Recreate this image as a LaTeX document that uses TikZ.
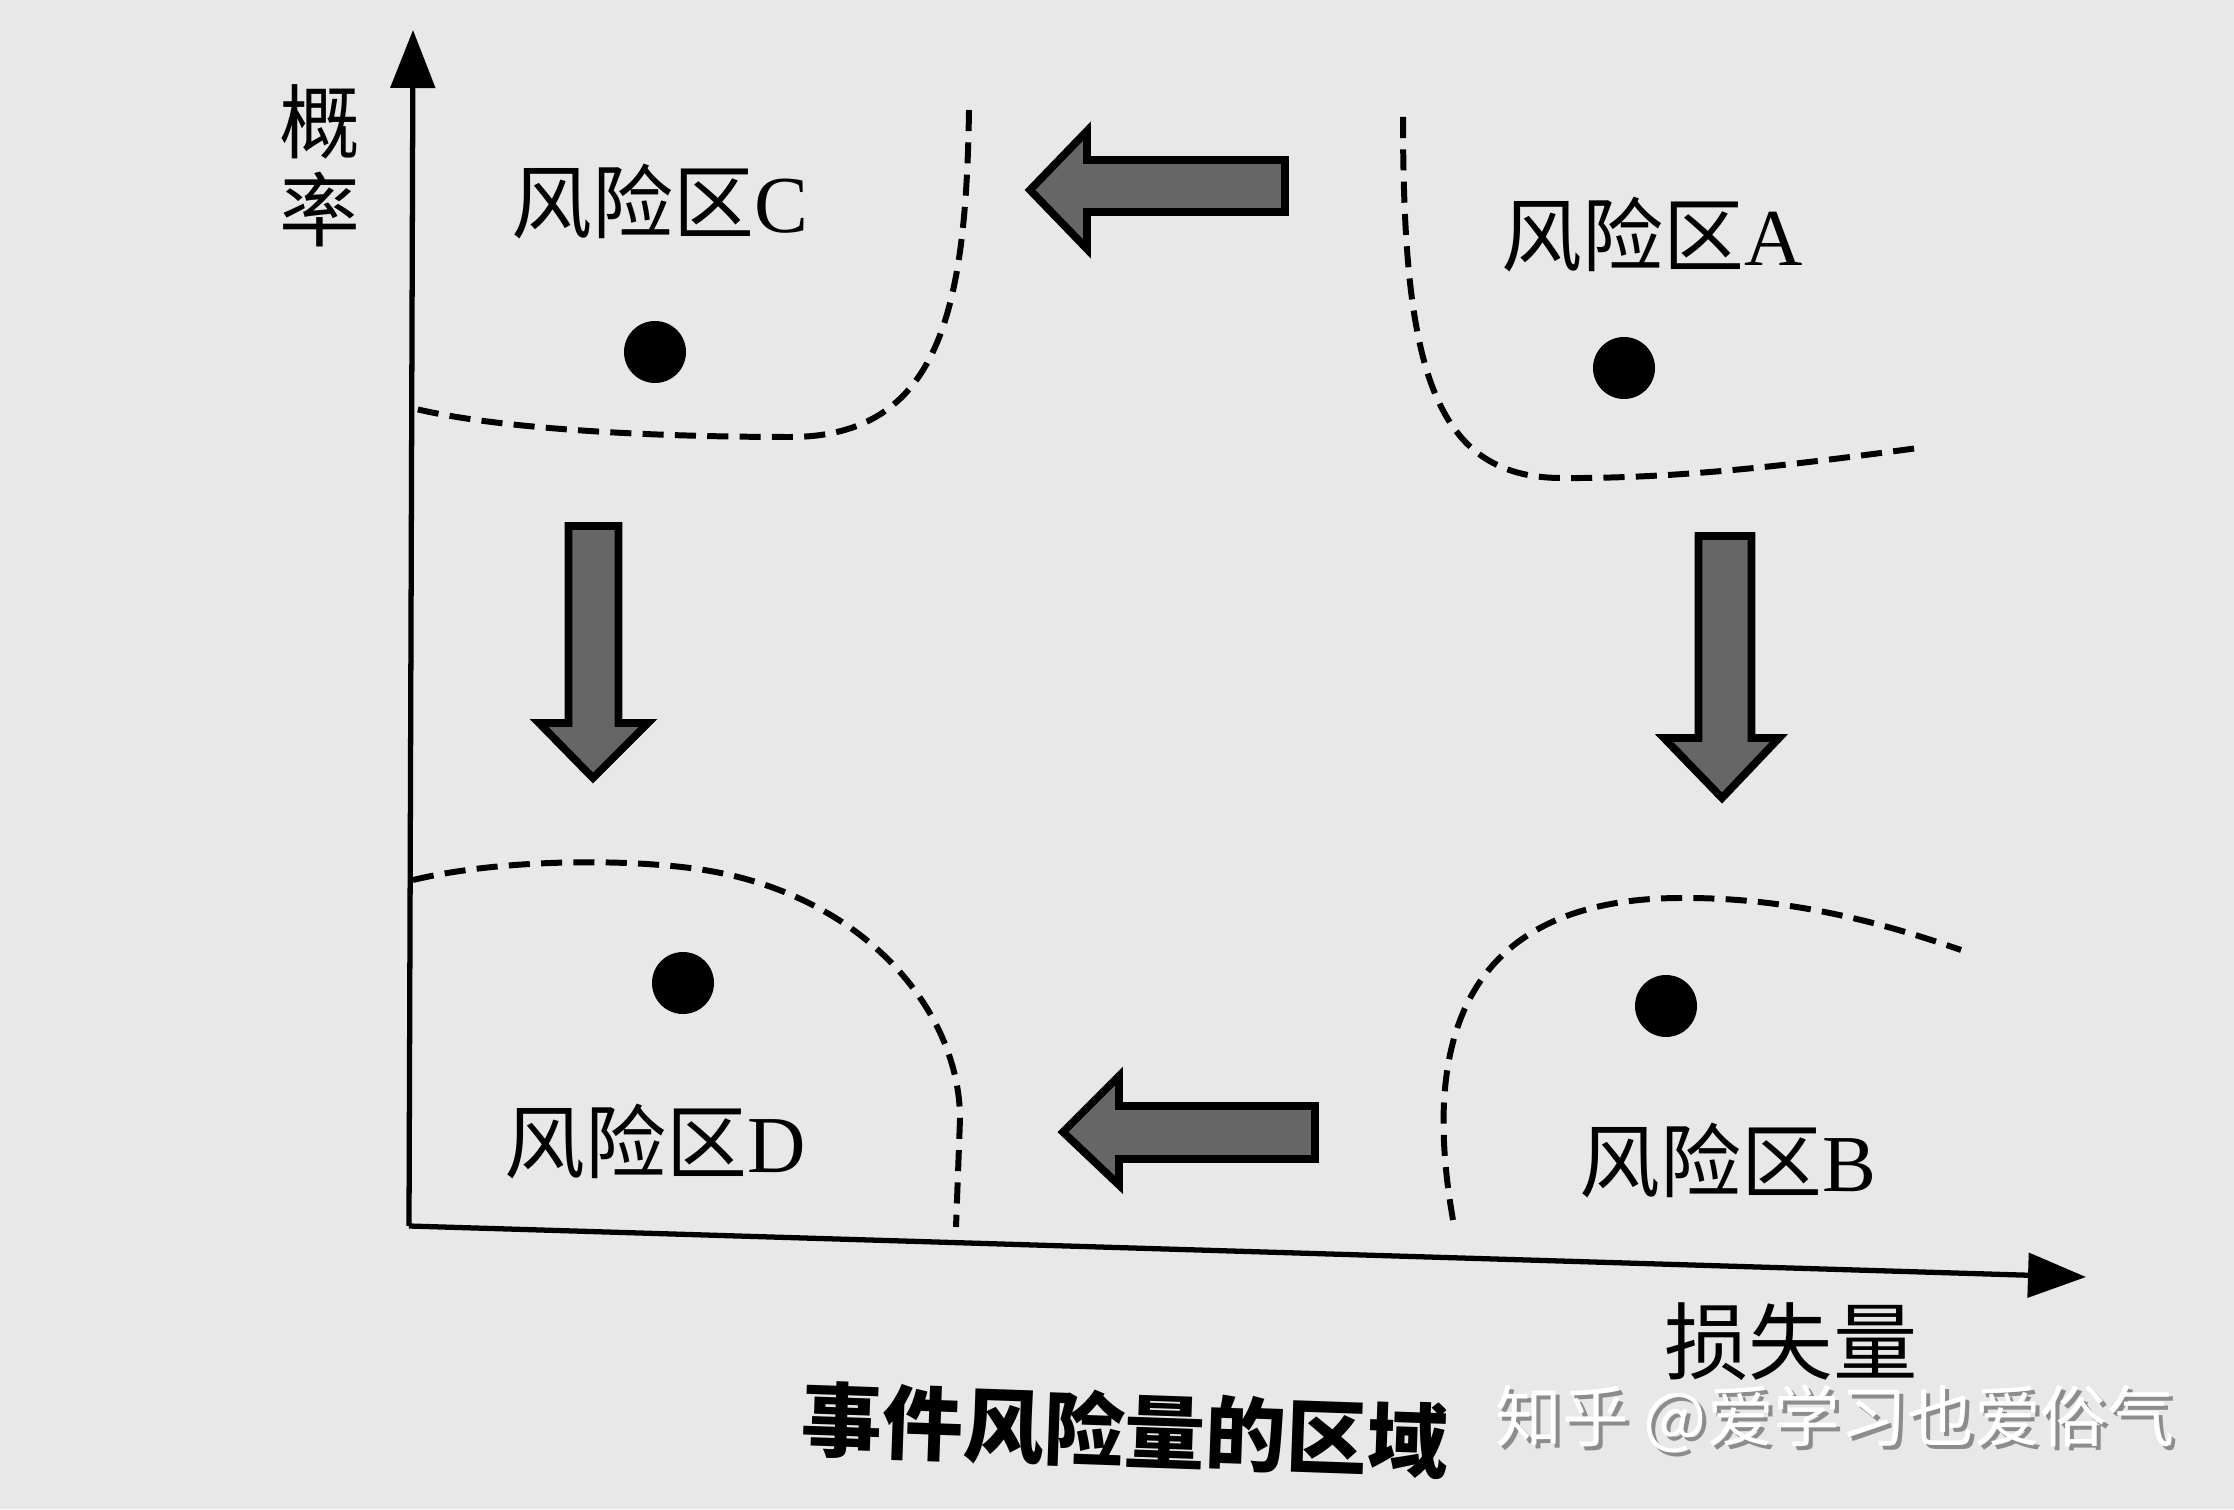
\documentclass[tikz,border=0pt]{standalone}
\usepackage{fontspec}
\setmainfont{Liberation Serif}
\newfontfamily\cjk{Noto Sans CJK SC}
\usetikzlibrary{arrows.meta}
\definecolor{paper}{gray}{0.91}
\definecolor{arrowfill}{gray}{0.40}

\begin{document}
\begin{tikzpicture}[
   axisline/.style={line width=1.5pt,-{Triangle[length=5.8mm,width=4.4mm]}},
   zoneline/.style={line width=1.7pt,dash pattern=on 6pt off 3.2pt},
   fatarrow/.style={fill=arrowfill,draw=black,line width=2.2pt,line join=miter},
   zone/.style={font=\fontsize{23}{28}\selectfont},
   riskdot/.style={circle,fill=black,inner sep=0pt,minimum size=6.2mm}]
   \useasboundingbox (0,0) rectangle (22.34,15.09);
   \fill[paper] (0,0) rectangle (22.34,15.09);

   % axes
   \coordinate (O) at (4.09,2.83);
   \coordinate (ytip) at (4.13,14.79);
   \coordinate (xtip) at (20.86,2.32);
   \draw[axisline] (O) -- (ytip);
   \draw[axisline] (O) -- (xtip);
   \node[font=\cjk\fontsize{23}{25}\selectfont,align=center] (ylabel) at (3.20,13.43) {概\\率};
   \node[font=\cjk\fontsize{24}{28}\selectfont] (xlabel) at (17.91,1.67) {损失量};

   % zone borders
   \draw[zoneline] (9.69,13.99) .. controls (9.66,12.0) and (9.4,10.72) .. (7.9,10.72)
      .. controls (6.5,10.72) and (5.0,10.8) .. (4.16,11.0);
   \draw[zoneline] (14.03,13.92) .. controls (14.03,11.5) and (14.3,10.32) .. (15.6,10.31)
      .. controls (16.8,10.30) and (18.0,10.45) .. (19.18,10.61);
   \draw[zoneline] (4.13,6.29) .. controls (5.0,6.5) and (6.2,6.5) .. (6.9,6.41)
      .. controls (8.6,6.2) and (9.6,5.0) .. (9.6,3.9) -- (9.56,2.82);
   \draw[zoneline] (14.53,2.89) .. controls (14.3,4.2) and (14.3,6.1) .. (16.8,6.11)
      .. controls (18.0,6.12) and (19.0,5.8) .. (19.61,5.59);

   % zones
   \node[zone] (zoneC) at (6.60,13.07) {{\cjk 风险区}C};
   \node[zone] (zoneA) at (16.52,12.74) {{\cjk 风险区}A};
   \node[zone] (zoneD) at (6.55,3.67) {{\cjk 风险区}D};
   \node[zone] (zoneB) at (17.28,3.48) {{\cjk 风险区}B};
   \node[riskdot] (dotC) at (6.55,11.57) {};
   \node[riskdot] (dotA) at (16.24,11.41) {};
   \node[riskdot] (dotD) at (6.83,5.26) {};
   \node[riskdot] (dotB) at (16.66,5.03) {};

   % shift arrows
   \filldraw[fatarrow] (10.30,13.19) -- (10.87,13.78) -- (10.87,13.49) -- (12.85,13.49)
      -- (12.85,12.97) -- (10.87,12.97) -- (10.87,12.60) -- cycle;
   \filldraw[fatarrow] (10.63,3.77) -- (11.19,4.33) -- (11.19,4.03) -- (13.15,4.03)
      -- (13.15,3.50) -- (11.19,3.50) -- (11.19,3.24) -- cycle;
   \filldraw[fatarrow] (5.93,7.31) -- (5.39,7.86) -- (5.685,7.86) -- (5.685,9.83)
      -- (6.185,9.83) -- (6.185,7.86) -- (6.48,7.86) -- cycle;
   \filldraw[fatarrow] (17.22,7.11) -- (16.64,7.71) -- (16.985,7.71) -- (16.985,9.73)
      -- (17.515,9.73) -- (17.515,7.71) -- (17.79,7.71) -- cycle;

   % caption and mark
   \node[font={\cjk\bfseries\fontsize{23}{28}\selectfont},rotate=-2] (caption) at (11.25,0.79) {事件风险量的区域};
   \node[font=\cjk\fontsize{19}{24}\selectfont,text=black!45] (markshadow) at (18.39,0.86) {知乎 @爱学习也爱俗气};
   \node[font=\cjk\fontsize{19}{24}\selectfont,text=white] (mark) at (18.35,0.90) {知乎 @爱学习也爱俗气};
\end{tikzpicture}
\end{document}
